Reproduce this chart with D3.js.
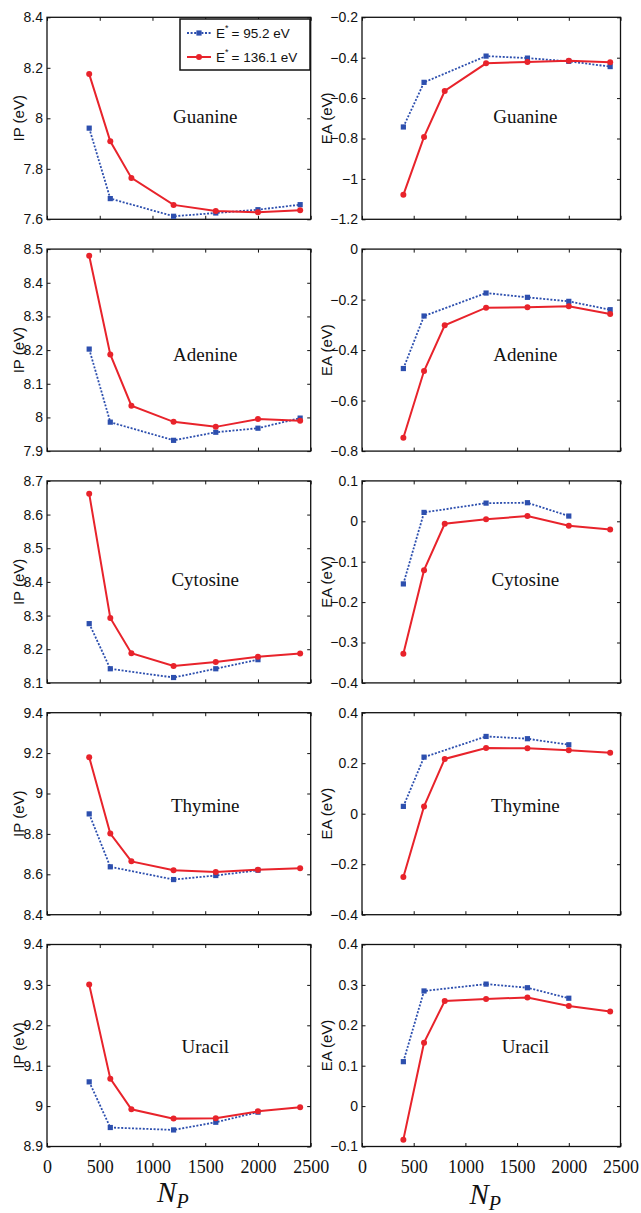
<!DOCTYPE html>
<html><head><meta charset="utf-8">
<script src="https://cdn.jsdelivr.net/npm/d3@7"></script>
<style>body{margin:0;background:#fff}</style>
</head><body>
<svg id="c" width="641" height="1213"></svg>
<script>
const npValues = [400, 600, 800, 1200, 1600, 2000, 2400];
const bases = ["Guanine", "Adenine", "Cytosine", "Thymine", "Uracil"];
const ipBlue = [
  [7.961, 7.682, null, 7.612, 7.625, 7.638, 7.658],
  [8.203, 7.986, null, 7.932, 7.956, 7.968, 7.998],
  [8.276, 8.142, null, 8.116, 8.142, 8.169, null],
  [8.899, 8.637, null, 8.574, 8.594, 8.620, null],
  [9.060, 8.947, null, 8.941, 8.960, 8.985, null]];
const ipRed = [
  [8.175, 7.909, 7.764, 7.657, 7.633, 7.628, 7.636],
  [8.480, 8.187, 8.035, 7.987, 7.972, 7.995, 7.990],
  [8.662, 8.293, 8.188, 8.150, 8.162, 8.178, 8.187],
  [9.180, 8.802, 8.664, 8.620, 8.612, 8.623, 8.630],
  [9.301, 9.068, 8.992, 8.969, 8.970, 8.987, 8.997]];
const eaBlue = [
  [-0.743, -0.522, null, -0.392, -0.402, -0.418, -0.444],
  [-0.473, -0.265, null, -0.174, -0.191, -0.207, -0.240],
  [-0.155, 0.022, null, 0.045, 0.046, 0.013, null],
  [0.029, 0.224, null, 0.306, 0.297, 0.273, null],
  [0.110, 0.285, null, 0.302, 0.293, 0.267, null]];
const eaRed = [
  [-1.079, -0.792, -0.565, -0.428, -0.421, -0.415, -0.423],
  [-0.747, -0.483, -0.302, -0.232, -0.230, -0.226, -0.257],
  [-0.328, -0.121, -0.006, 0.005, 0.013, -0.011, -0.020],
  [-0.251, 0.029, 0.217, 0.260, 0.259, 0.251, 0.241],
  [-0.083, 0.157, 0.260, 0.265, 0.269, 0.248, 0.234]];
const ipTicks = [
  [7.6, 7.8, 8, 8.2, 8.4],
  [7.9, 8, 8.1, 8.2, 8.3, 8.4, 8.5],
  [8.1, 8.2, 8.3, 8.4, 8.5, 8.6, 8.7],
  [8.4, 8.6, 8.8, 9, 9.2, 9.4],
  [8.9, 9, 9.1, 9.2, 9.3, 9.4]];
const eaTicks = [
  [-1.2, -1, -0.8, -0.6, -0.4, -0.2],
  [-0.8, -0.6, -0.4, -0.2, 0],
  [-0.4, -0.3, -0.2, -0.1, 0, 0.1],
  [-0.4, -0.2, 0, 0.2, 0.4],
  [-0.1, 0, 0.1, 0.2, 0.3, 0.4]];
const xTicks = [0, 500, 1000, 1500, 2000, 2500];
const yLabels = ["IP (eV)", "EA (eV)"];
const legendValues = ["95.2 eV", "136.1 eV"];

// layout
const BLUE = "#2d4fae", RED = "#e8232b";
const sans = "'Liberation Sans', Arial, Helvetica, sans-serif";
const serif = "'Liberation Serif', 'Times New Roman', serif";
const cols = [{x0: 47, x1: 310.7, lblX: 18, textX: 1500}, {x0: 362, x1: 620.5, lblX: 326, textX: 1580}];
const rowTop0 = 17.3, rowStep = 231.8, rowH = 202;
const labelFrac = [0.49, 0.52, 0.49, 0.46, 0.505];

const svg = d3.select("#c");
const fmt = d3.format("~g");

function panel(ci, ri, blueVals, redVals, ticks) {
  const c = cols[ci];
  const y0 = rowTop0 + ri * rowStep, y1 = y0 + rowH;
  const x = d3.scaleLinear().domain([0, 2500]).range([c.x0, c.x1]);
  const y = d3.scaleLinear().domain([ticks[0], ticks[ticks.length - 1]]).range([y1, y0]);
  const g = svg.append("g");
  const isBottom = ri === bases.length - 1;

  const left = g.append("g").attr("transform", `translate(${c.x0},0)`)
    .call(d3.axisLeft(y).tickValues(ticks).tickSize(-3.5).tickPadding(4).tickFormat(fmt));
  left.selectAll("text").attr("font-family", sans).attr("font-size", 14).attr("fill", "#111");
  g.append("g").attr("transform", `translate(${c.x1},0)`)
    .call(d3.axisRight(y).tickValues(ticks).tickSize(-3.5).tickFormat(""));
  g.append("g").attr("transform", `translate(0,${y0})`)
    .call(d3.axisTop(x).tickValues(xTicks).tickSize(-3.5).tickFormat(""));
  const bottom = g.append("g").attr("transform", `translate(0,${y1})`)
    .call(d3.axisBottom(x).tickValues(xTicks).tickSize(-3.5).tickPadding(14).tickFormat(isBottom ? d3.format("d") : ""));
  bottom.selectAll("text").attr("font-family", serif).attr("font-size", 18).attr("fill", "#111");
  g.selectAll(".domain").remove();
  g.selectAll(".tick line").attr("stroke", "#111").attr("stroke-width", 1);
  g.append("rect").attr("x", c.x0).attr("y", y0).attr("width", c.x1 - c.x0).attr("height", rowH)
    .attr("fill", "none").attr("stroke", "#111").attr("stroke-width", 1.3);

  g.append("text").attr("transform", `translate(${c.lblX},${(y0 + y1) / 2}) rotate(-90)`)
    .attr("text-anchor", "middle").attr("dominant-baseline", "central")
    .attr("font-family", sans).attr("font-size", 15).attr("fill", "#111").text(yLabels[ci]);

  g.append("text").attr("x", x(c.textX)).attr("y", y0 + rowH * labelFrac[ri])
    .attr("text-anchor", "middle").attr("dominant-baseline", "central")
    .attr("font-family", serif).attr("font-size", 19).attr("fill", "#111").text(bases[ri]);

  const line = d3.line().x(d => x(d.n)).y(d => y(d.v));
  const bd = npValues.map((n, i) => ({n, v: blueVals[i]})).filter(d => d.v != null);
  const rd = npValues.map((n, i) => ({n, v: redVals[i]})).filter(d => d.v != null);

  g.append("path").datum(bd).attr("d", line).attr("fill", "none").attr("stroke", BLUE)
    .attr("stroke-width", 1.8).attr("stroke-dasharray", "2,1.6");
  g.selectAll(".sq").data(bd).join("rect").attr("x", d => x(d.n) - 2.6).attr("y", d => y(d.v) - 2.6)
    .attr("width", 5.2).attr("height", 5.2).attr("fill", BLUE);
  g.append("path").datum(rd).attr("d", line).attr("fill", "none").attr("stroke", RED).attr("stroke-width", 2);
  g.selectAll(".ci").data(rd).join("circle").attr("cx", d => x(d.n)).attr("cy", d => y(d.v))
    .attr("r", 3).attr("fill", RED);
}

bases.forEach((b, i) => {
  panel(0, i, ipBlue[i], ipRed[i], ipTicks[i]);
  panel(1, i, eaBlue[i], eaRed[i], eaTicks[i]);
});

// legend
const lg = svg.append("g");
lg.append("rect").attr("x", 180).attr("y", 19).attr("width", 130).attr("height", 51)
  .attr("fill", "#fff").attr("stroke", "#111").attr("stroke-width", 1.5);
[BLUE, RED].forEach((col, i) => {
  const yy = 33 + i * 24;
  const l = lg.append("line").attr("x1", 187).attr("x2", 211).attr("y1", yy).attr("y2", yy)
    .attr("stroke", col).attr("stroke-width", i === 0 ? 1.8 : 2);
  if (i === 0) {
    l.attr("stroke-dasharray", "2,1.6");
    lg.append("rect").attr("x", 199 - 2.6).attr("y", yy - 2.6).attr("width", 5.2).attr("height", 5.2).attr("fill", col);
  } else {
    lg.append("circle").attr("cx", 199).attr("cy", yy).attr("r", 3).attr("fill", col);
  }
  const t = lg.append("text").attr("x", 216).attr("y", yy + 5).attr("font-family", sans)
    .attr("font-size", 13.5).attr("fill", "#111");
  t.append("tspan").text("E");
  t.append("tspan").attr("dy", -7).attr("font-size", 9).text("*");
  t.append("tspan").attr("dy", 7).attr("dx", 3).text("= " + legendValues[i]);
});

// x-axis labels N_P
[[cols[0], 1202], [cols[1], 1204]].forEach(([c, by]) => {
  const t = svg.append("text").attr("x", (c.x0 + c.x1) / 2 - 6).attr("y", by)
    .attr("text-anchor", "middle").attr("font-family", serif).attr("font-style", "italic")
    .attr("font-size", 29).attr("fill", "#111");
  t.append("tspan").text("N");
  t.append("tspan").attr("dy", 6).attr("font-size", 20).text("P");
});
</script>
</body></html>
